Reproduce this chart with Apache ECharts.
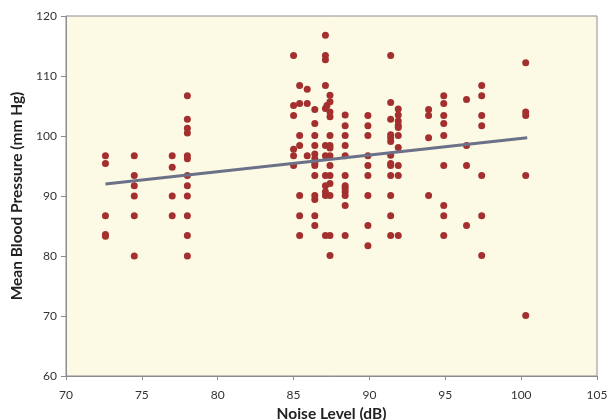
<!DOCTYPE html>
<html>
<head>
<meta charset="utf-8">
<script src="https://cdn.jsdelivr.net/npm/echarts@6/dist/echarts.min.js"></script>
<style>html,body{margin:0;padding:0;background:#fff}#c{width:611px;height:420px}</style>
</head>
<body>
<div id="c"></div>
<script>
// Noise level (dB) column values and corresponding mean blood pressure readings
const noiseLevels = [72.6, 74.5, 77.0, 78.0, 85.0, 85.4, 85.9, 86.4, 87.1, 87.2, 87.4, 88.4, 89.9, 91.4, 91.9, 93.9, 94.9, 96.4, 97.4, 100.3];
const pressures = [
  [96.7, 95.4, 86.7, 83.6, 83.3],
  [96.7, 93.4, 91.7, 90.0, 86.7, 80.0],
  [96.7, 94.8, 90.0, 86.7],
  [106.7, 102.8, 101.3, 100.5, 96.7, 96.2, 93.4, 91.7, 90.0, 86.7, 83.4, 80.0],
  [113.4, 105.1, 103.4, 97.8, 96.7, 95.1],
  [108.4, 105.4, 100.1, 98.4, 90.1, 86.7, 83.4],
  [107.8, 105.4, 96.7],
  [104.4, 102.1, 100.1, 98.4, 97.0, 96.2, 95.5, 95.1, 93.4, 90.1, 89.4, 86.7, 85.1],
  [116.8, 113.4, 112.7, 108.4, 104.6, 98.4, 96.7, 93.4, 91.7, 90.7, 90.1, 83.4],
  [105.1],
  [106.8, 105.7, 104.0, 103.2, 100.1, 98.4, 98.0, 96.7, 95.1, 93.4, 92.1, 90.1, 83.4, 80.1],
  [103.5, 101.7, 100.1, 98.4, 96.7, 93.4, 91.7, 91.3, 90.7, 90.1, 88.4, 83.4],
  [103.4, 101.7, 100.1, 96.7, 95.1, 93.4, 90.1, 85.1, 81.7],
  [113.4, 105.6, 102.8, 100.2, 99.7, 99.1, 96.8, 95.4, 95.1, 93.4, 90.1, 86.7, 83.4],
  [104.5, 103.5, 102.5, 101.8, 101.4, 100.1, 98.1, 95.1, 93.4, 83.4],
  [104.4, 103.4, 99.7, 90.1],
  [106.7, 105.4, 103.4, 102.1, 100.1, 95.1, 88.4, 86.7, 83.4],
  [106.1, 98.4, 95.1, 85.1],
  [108.4, 106.7, 103.4, 101.7, 93.4, 86.7, 80.1],
  [112.2, 104.0, 103.4, 93.4, 70.1]
];
// Linear trend line endpoints
const trendX = [72.6, 100.4];
const trendY = [92.0, 99.7];
const xTicks = [70, 75, 80, 85, 90, 95, 100, 105];
const yTicks = [60, 70, 80, 90, 100, 110, 120];

const scatterData = [];
noiseLevels.forEach((x, i) => pressures[i].forEach(y => scatterData.push([x, y])));
const trendData = trendX.map((x, i) => [x, trendY[i]]);

const font = 'Lato, "Open Sans", sans-serif';
const chart = echarts.init(document.getElementById('c'), null, {renderer: 'canvas'});
chart.setOption({
  animation: false,
  backgroundColor: '#ffffff',
  grid: {
    left: 66, right: 14, top: 16, bottom: 44,
    containLabel: false, outerBoundsMode: 'none',
    show: true, backgroundColor: '#fcfae4', borderColor: '#8c8c96', borderWidth: 1
  },
  xAxis: {
    type: 'value', min: xTicks[0], max: xTicks[xTicks.length - 1], interval: 5,
    name: 'Noise Level (dB)', nameLocation: 'middle', nameGap: 30,
    nameTextStyle: {fontFamily: font, fontWeight: 'bold', fontSize: 15.5, color: '#222'},
    axisLine: {lineStyle: {color: '#8c8c8c'}},
    axisTick: {show: true, length: 4, lineStyle: {color: '#8c8c8c'}},
    axisLabel: {fontFamily: font, fontSize: 12, color: '#333', margin: 13},
    splitLine: {show: false}
  },
  yAxis: {
    type: 'value', min: yTicks[0], max: yTicks[yTicks.length - 1], interval: 10,
    name: 'Mean Blood Pressure (mm Hg)', nameLocation: 'middle', nameGap: 39,
    nameTextStyle: {fontFamily: font, fontWeight: 'bold', fontSize: 15.5, color: '#222'},
    axisLine: {show: true, lineStyle: {color: '#8c8c8c'}},
    axisTick: {show: true, length: 5, lineStyle: {color: '#8c8c8c'}},
    axisLabel: {fontFamily: font, fontSize: 12, color: '#333', margin: 9},
    splitLine: {show: false}
  },
  series: [
    {
      type: 'scatter', data: scatterData, symbolSize: 7,
      itemStyle: {color: '#a3302e', opacity: 1}, z: 3
    },
    {
      type: 'line', data: trendData, showSymbol: false, symbol: 'none',
      lineStyle: {color: '#6b7189', width: 3}, z: 4
    }
  ]
});
</script>
</body>
</html>
